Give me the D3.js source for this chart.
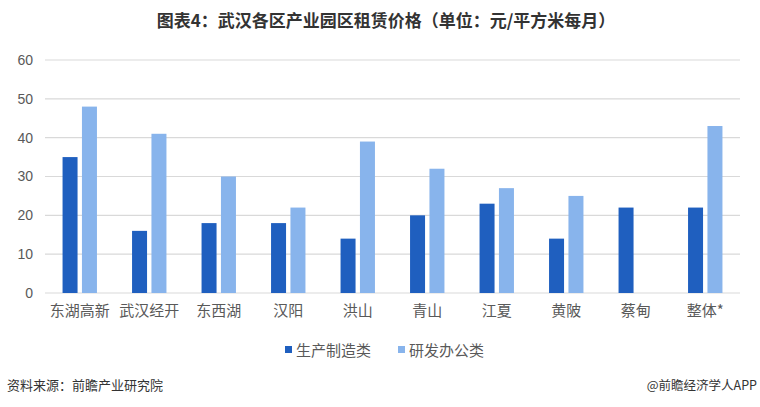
<!DOCTYPE html>
<html>
<head>
<meta charset="utf-8">
<script src="https://cdn.jsdelivr.net/npm/d3@7"></script>
<style>
  html, body { margin: 0; padding: 0; background: #fff; }
  svg { display: block; }
</style>
</head>
<body>
<svg id="chart" width="760" height="407"></svg>
<script>
const categories = ["东湖高新", "武汉经开", "东西湖", "汉阳", "洪山", "青山", "江夏", "黄陂", "蔡甸", "整体*"];
const seriesNames = ["生产制造类", "研发办公类"];
const manufacturing = [35, 16, 18, 18, 14, 20, 23, 14, 22, 22];
const rndOffice = [48, 41, 30, 22, 39, 32, 27, 25, null, 43];
const yTicks = [0, 10, 20, 30, 40, 50, 60];
const colors = ["#1f5fbf", "#88b4ec"];

const svg = d3.select("#chart");
const cjk = "'Noto Sans CJK SC', 'Noto Sans', sans-serif";

const margin = { left: 45, right: 20, top: 60, bottom: 114 };
const W = 760, H = 407;
const x = d3.scaleBand().domain(categories).range([margin.left, W - margin.right]).paddingInner(0).paddingOuter(0);
const y = d3.scaleLinear().domain([0, 60]).range([H - margin.bottom, margin.top]);

// Title
svg.append("text")
  .attr("x", 386).attr("y", 27)
  .attr("text-anchor", "middle")
  .attr("font-family", cjk)
  .attr("font-weight", "bold")
  .attr("font-size", 17)
  .attr("fill", "#333")
  .text("图表4：武汉各区产业园区租赁价格（单位：元/平方米每月）");

// Gridlines
svg.append("g")
  .selectAll("line")
  .data(yTicks)
  .join("line")
  .attr("x1", margin.left).attr("x2", W - margin.right)
  .attr("y1", d => y(d)).attr("y2", d => y(d))
  .attr("stroke", "#d9d9d9").attr("stroke-width", 1.2);

// Y axis
const yAxis = svg.append("g")
  .attr("transform", `translate(${margin.left},0)`)
  .call(d3.axisLeft(y).tickValues(yTicks).tickSize(0).tickPadding(12));
yAxis.select(".domain").remove();
yAxis.selectAll("text")
  .attr("font-family", "'Liberation Sans', 'DejaVu Sans', sans-serif")
  .attr("font-size", 14)
  .attr("fill", "#595959");

// Bars
const barW = 15, gap = 4.4;
const inner = d3.scaleOrdinal().domain([0, 1]).range([-(gap / 2 + barW), gap / 2]);
const series = [manufacturing, rndOffice];
series.forEach((vals, si) => {
  svg.append("g")
    .selectAll("rect")
    .data(categories.map((c, i) => ({ c, v: vals[i] })).filter(d => d.v != null))
    .join("rect")
    .attr("x", d => x(d.c) + x.bandwidth() / 2 + inner(si))
    .attr("width", barW)
    .attr("y", d => y(d.v))
    .attr("height", d => y(0) - y(d.v))
    .attr("fill", colors[si]);
});

// X axis labels
const xAxis = svg.append("g")
  .attr("transform", `translate(0,${y(0)})`)
  .call(d3.axisBottom(x).tickSize(0).tickPadding(12));
xAxis.select(".domain").remove();
xAxis.selectAll("text")
  .attr("font-family", cjk)
  .attr("font-size", 15)
  .attr("fill", "#595959");

// Legend
const legendItems = [
  { name: seriesNames[0], color: colors[0], x: 285 },
  { name: seriesNames[1], color: colors[1], x: 398 }
];
const lg = svg.append("g");
legendItems.forEach(it => {
  lg.append("rect").attr("x", it.x).attr("y", 346).attr("width", 7).attr("height", 7).attr("fill", it.color);
  lg.append("text").attr("x", it.x + 11).attr("y", 355.5)
    .attr("font-family", cjk).attr("font-size", 15).attr("fill", "#595959")
    .text(it.name);
});

// Footer
svg.append("text").attr("x", 7).attr("y", 390)
  .attr("font-family", cjk).attr("font-size", 13).attr("fill", "#333")
  .text("资料来源：前瞻产业研究院");
svg.append("text").attr("x", 757).attr("y", 390).attr("text-anchor", "end")
  .attr("font-family", cjk).attr("font-size", 12.5).attr("fill", "#333")
  .text("@前瞻经济学人APP");
</script>
</body>
</html>
